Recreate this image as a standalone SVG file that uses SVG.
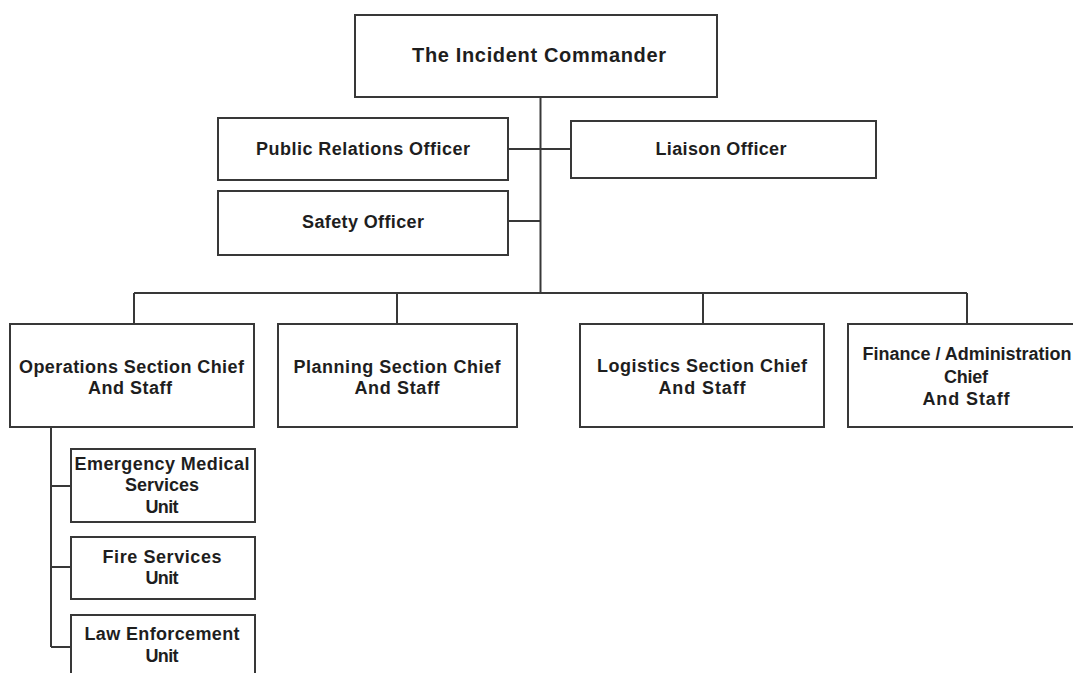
<svg xmlns="http://www.w3.org/2000/svg" width="1073" height="673" viewBox="0 0 1073 673">
<style>
.box{fill:#fff;stroke:#383838;stroke-width:2}
.t{font-family:"Liberation Sans",Arial,sans-serif;font-weight:bold;font-size:18px;fill:#1e1e1e;text-anchor:middle}
.big{font-size:20px}
.c{fill:none;stroke:#383838;stroke-width:2}
</style>
<rect width="1073" height="673" fill="#fff"/>
<g id="connectors" class="c">
<path d="M540.5 97V293"/>
<path d="M508 149H571"/>
<path d="M508 221H540.5"/>
<path d="M134 293H967"/>
<path d="M134 293V324M397 293V324M703 293V324M967 293V324"/>
<path d="M51 427V647M51 486H71M51 567H71M51 647H71"/>
</g>
<g id="commander"><rect class="box" x="355" y="15" width="362" height="82"/><text class="t big" x="539" y="62" textLength="254" lengthAdjust="spacing">The Incident Commander</text></g>
<g id="public-relations"><rect class="box" x="218" y="118" width="290" height="62"/><text class="t" x="363" y="155" textLength="214" lengthAdjust="spacing">Public Relations Officer</text></g>
<g id="liaison"><rect class="box" x="571" y="121" width="305" height="57"/><text class="t" x="721" y="155" textLength="131" lengthAdjust="spacing">Liaison Officer</text></g>
<g id="safety"><rect class="box" x="218" y="191" width="290" height="64"/><text class="t" x="363" y="228" textLength="122" lengthAdjust="spacing">Safety Officer</text></g>
<g id="operations"><rect class="box" x="10" y="324" width="244" height="103"/><text class="t" x="131.5" y="373" textLength="225" lengthAdjust="spacing">Operations Section Chief</text><text class="t" x="130" y="394" textLength="84" lengthAdjust="spacing">And Staff</text></g>
<g id="planning"><rect class="box" x="278" y="324" width="239" height="103"/><text class="t" x="397" y="373" textLength="207" lengthAdjust="spacing">Planning Section Chief</text><text class="t" x="397" y="394" textLength="85" lengthAdjust="spacing">And Staff</text></g>
<g id="logistics"><rect class="box" x="580" y="324" width="244" height="103"/><text class="t" x="702" y="372" textLength="210" lengthAdjust="spacing">Logistics Section Chief</text><text class="t" x="702" y="394" textLength="87" lengthAdjust="spacing">And Staff</text></g>
<g id="finance"><rect class="box" x="848" y="324" width="240" height="103"/><text class="t" x="967" y="360" textLength="209" lengthAdjust="spacing">Finance / Administration</text><text class="t" x="966" y="383" textLength="44" lengthAdjust="spacing">Chief</text><text class="t" x="966" y="405" textLength="87" lengthAdjust="spacing">And Staff</text></g>
<g id="ems"><rect class="box" x="71" y="449" width="184" height="73"/><text class="t" x="162" y="470" textLength="175" lengthAdjust="spacing">Emergency Medical</text><text class="t" x="162" y="491" textLength="74" lengthAdjust="spacing">Services</text><text class="t" x="162" y="513" textLength="33" lengthAdjust="spacing">Unit</text></g>
<g id="fire"><rect class="box" x="71" y="537" width="184" height="62"/><text class="t" x="162" y="563" textLength="119" lengthAdjust="spacing">Fire Services</text><text class="t" x="162" y="584" textLength="33" lengthAdjust="spacing">Unit</text></g>
<g id="law"><rect class="box" x="71" y="615" width="184" height="70"/><text class="t" x="162" y="640" textLength="155" lengthAdjust="spacing">Law Enforcement</text><text class="t" x="162" y="662" textLength="33" lengthAdjust="spacing">Unit</text></g>
</svg>
